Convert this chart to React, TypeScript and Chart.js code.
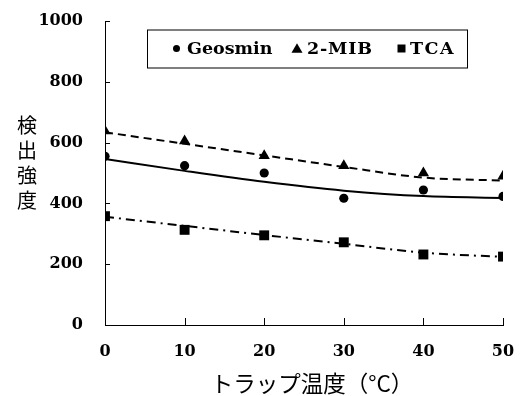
import React, { useEffect, useRef } from "react";
import { Chart, registerables } from "chart.js";

Chart.register(...registerables);

// ---- data ----
const temps = [0, 10, 20, 30, 40, 50];
const geosmin = [555, 524, 500, 417, 444, 423];
const mib = [638, 605, 557, 524, 500, 489];
const tca = [358, 313, 295, 272, 232, 225];
const geosminTrend = [546, 507, 471, 442, 424, 418];
const mibTrend = [634, 596, 558, 520, 485, 475];
const tcaTrend = [356, 326, 296, 267, 238, 224];
const seriesNames = ["Geosmin", "2-MIB", "TCA"];
const yTitle = "検出強度";
const xTitle = "トラップ温度（°C）";
const yMin = 0;
const yMax = 1000;
const yStep = 200;
const xMin = 0;
const xMax = 50;
const xStep = 10;

const SERIF = '"DejaVu Serif", serif';
const SANS_JP = '"Noto Sans CJK JP", sans-serif';

const toPts = (ys: number[]) => temps.map((x, i) => ({ x, y: ys[i] }));

function drawMarker(ctx: CanvasRenderingContext2D, style: string, x: number, y: number, s: number) {
  ctx.beginPath();
  if (style === "circle") {
    ctx.arc(x, y, s, 0, Math.PI * 2);
  } else if (style === "triangle") {
    ctx.moveTo(x, y - s * 1.05);
    ctx.lineTo(x + s * 1.1, y + s * 0.85);
    ctx.lineTo(x - s * 1.1, y + s * 0.85);
    ctx.closePath();
  } else {
    ctx.rect(x - s, y - s, 2 * s, 2 * s);
  }
  ctx.fill();
}

const boxLegend = {
  id: "boxLegend",
  afterDatasetsDraw(chart: any) {
    const { ctx, chartArea } = chart;
    const bx = chartArea.left + 42;
    const by = chartArea.top + 8.5;
    const bw = 320;
    const bh = 38;
    ctx.save();
    ctx.fillStyle = "#fff";
    ctx.fillRect(bx, by, bw, bh);
    ctx.strokeStyle = "#000";
    ctx.lineWidth = 1;
    ctx.strokeRect(bx + 0.5, by + 0.5, bw, bh);
    ctx.fillStyle = "#000";
    ctx.font = `bold 17.5px ${SERIF}`;
    ctx.textBaseline = "middle";
    ctx.textAlign = "left";
    const cy = by + bh / 2;
    const markerX = [29.5, 150, 254.5];
    const textX = [40, 160, 263];
    const styles = ["circle", "triangle", "rect"];
    const sizes = [3.5, 5, 4];
    const spacing = ["0px", "0.8px", "1.5px"];
    seriesNames.forEach((name, i) => {
      drawMarker(ctx, styles[i], bx + markerX[i], cy, sizes[i]);
      try {
        (ctx as any).letterSpacing = spacing[i];
      } catch (e) {}
      ctx.fillText(name, bx + textX[i], cy + 1);
    });
    ctx.restore();
  },
};

const axisDecor = {
  id: "axisDecor",
  afterDraw(chart: any) {
    const { ctx, chartArea } = chart;
    const xs = chart.scales.x;
    const ys = chart.scales.y;
    ctx.save();
    ctx.strokeStyle = "#000";
    ctx.lineWidth = 1;
    ctx.beginPath();
    ys.ticks.forEach((t: any) => {
      const py = Math.round(ys.getPixelForValue(t.value)) + 0.5;
      ctx.moveTo(chartArea.left, py);
      ctx.lineTo(chartArea.left + 5, py);
    });
    xs.ticks.forEach((t: any) => {
      const px = Math.round(xs.getPixelForValue(t.value)) + 0.5;
      ctx.moveTo(px, chartArea.bottom);
      ctx.lineTo(px, chartArea.bottom - 7);
    });
    ctx.stroke();
    ctx.fillStyle = "#000";
    // vertical y-axis title
    ctx.font = `20px ${SANS_JP}`;
    ctx.textAlign = "center";
    ctx.textBaseline = "middle";
    Array.from(yTitle).forEach((c, i) => {
      ctx.fillText(c, 27, chartArea.top + 104 + i * 25.3);
    });
    // x-axis title
    ctx.font = `22.5px ${SANS_JP}`;
    ctx.fillText(xTitle, (chartArea.left + chartArea.right) / 2 + 8, chartArea.bottom + 58);
    ctx.restore();
  },
};

export default function App() {
  const ref = useRef<HTMLCanvasElement | null>(null);
  useEffect(() => {
    if (!ref.current) return;
    const tickFont = { family: SERIF, weight: "bold" as const, size: 16 };
    const pointSet = (i: number, data: number[], style: string, r: number) => ({
      label: seriesNames[i],
      data: toPts(data),
      showLine: false,
      pointStyle: style,
      pointRadius: r,
      pointBackgroundColor: "#000",
      pointBorderColor: "#000",
      pointBorderWidth: 0,
      order: 0,
    });
    const trendSet = (i: number, data: number[], dash: number[]) => ({
      label: seriesNames[i] + " trend",
      data: toPts(data),
      borderColor: "#000",
      borderWidth: 2,
      borderDash: dash,
      pointRadius: 0,
      cubicInterpolationMode: "monotone",
      fill: false,
      order: 1,
    });
    const chart = new Chart(ref.current, {
      type: "line",
      data: {
        datasets: [
          pointSet(0, geosmin, "circle", 4.6),
          pointSet(1, mib, "triangle", 6.5),
          pointSet(2, tca, "rect", 7),
          trendSet(0, geosminTrend, []),
          trendSet(1, mibTrend, [8, 5]),
          trendSet(2, tcaTrend, [9, 5, 2, 5]),
        ] as any,
      },
      options: {
        responsive: false,
        animation: false,
        events: [],
        layout: { padding: { top: 21, right: 22, left: 0, bottom: 0 } },
        plugins: {
          legend: { display: false },
          tooltip: { enabled: false },
        },
        scales: {
          x: {
            type: "linear",
            min: xMin,
            max: xMax,
            ticks: {
              stepSize: xStep,
              color: "#000",
              font: tickFont,
              padding: 9,
              callback: (v: any) => String(v),
            },
            grid: { display: false },
            border: { display: true, color: "#000", width: 1 },
            afterFit(s: any) {
              s.height = 71;
              s.paddingLeft = 0;
              s.paddingRight = 0;
            },
          },
          y: {
            min: yMin,
            max: yMax,
            ticks: {
              stepSize: yStep,
              color: "#000",
              font: tickFont,
              padding: 14,
              callback: (v: any) => String(v),
            },
            grid: { display: false },
            border: { display: true, color: "#000", width: 1 },
            afterFit(s: any) {
              s.width = 105;
              s.paddingTop = 0;
              s.paddingBottom = 0;
            },
          },
        },
      },
      plugins: [boxLegend, axisDecor],
    });
    return () => chart.destroy();
  }, []);

  return (
    <div style={{ position: "fixed", left: 0, top: 0, width: 525, height: 396, background: "#fff" }}>
      <canvas ref={ref} width={525} height={396} />
    </div>
  );
}
